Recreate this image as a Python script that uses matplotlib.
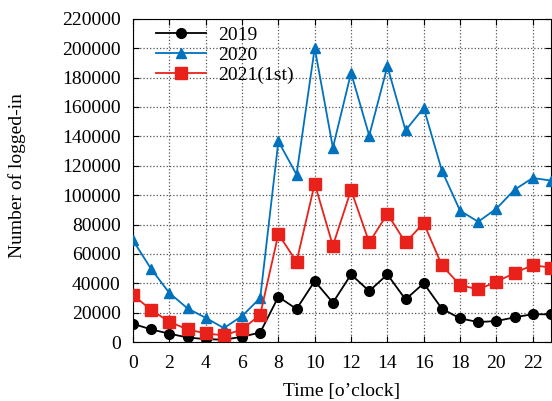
import matplotlib
matplotlib.use('Agg')
import matplotlib.pyplot as plt

plt.rcParams['font.family'] = ['Liberation Serif', 'DejaVu Serif']

hours = list(range(24))

y2019 = [12400, 8600, 5700, 3100, 2000, 1600, 3600, 6500, 30800, 22500, 41500, 26800,
         46000, 34700, 46000, 29000, 40000, 22700, 16100, 13600, 14300, 16800, 19000, 18800]
y2020 = [69200, 49700, 33400, 22900, 16500, 9500, 17700, 30000, 136600, 114000, 200200, 132300,
         183200, 140500, 187700, 144100, 159400, 116700, 89400, 81900, 90800, 103700, 111700, 109900]
y2021 = [32000, 21800, 13800, 8600, 5900, 4500, 8600, 18600, 73500, 54700, 107800, 65600,
         103500, 67800, 87200, 67800, 81000, 52200, 38800, 35800, 41000, 47000, 52400, 50600]

labels = ['2019', '2020', '2021(1st)']
xticks = list(range(0, 23, 2))
yticks = list(range(0, 220001, 20000))

fig = plt.figure(figsize=(5.52, 4.01), dpi=100)
ax = fig.add_axes([0.241, 0.147, 0.757, 0.806])

ax.plot(hours, y2019, color='black', marker='o', markersize=7, lw=1.3, label=labels[0], zorder=3)
ax.plot(hours, y2020, color='#0072bd', marker='^', markersize=7, lw=1.3, label=labels[1], zorder=3)
ax.plot(hours, y2021, color='#e8221a', marker='s', markersize=8, lw=1.3, label=labels[2], zorder=3)

ax.set_xlim(0, 23)
ax.set_ylim(0, 220000)
ax.set_xticks(xticks)
ax.set_yticks(yticks)
ax.tick_params(direction='in', top=True, right=True, labelsize=14, length=4)
ax.tick_params(axis='y', pad=9)
ax.tick_params(axis='x', pad=9)
ax.grid(True, linestyle=':', color='#555555', linewidth=0.9)
ax.set_axisbelow(True)

ax.set_xlabel('Time [o\u2019clock]', fontsize=14, labelpad=8)
ax.set_ylabel('Number of logged-in', fontsize=14)
ax.yaxis.set_label_coords(-0.256, 0.515)

leg = ax.legend(loc='upper left', bbox_to_anchor=(0.045, 0.99), frameon=False, fontsize=14,
                handlelength=2.6, borderpad=0.2, borderaxespad=0, labelspacing=0.12,
                handletextpad=0.62)
leg.set_zorder(5)

plt.savefig('out.png', dpi=100)
